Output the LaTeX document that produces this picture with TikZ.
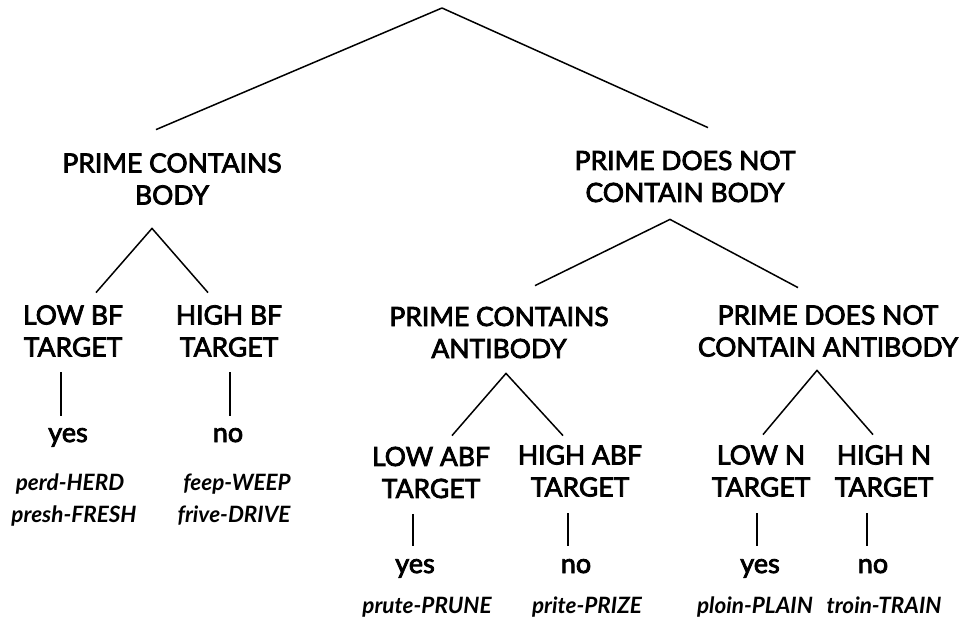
\documentclass[tikz,border=0pt]{standalone}
\usepackage{fontspec}
\setmainfont{Lato}
\newfontfamily\headfont{Lato}[FakeBold=3]
\usetikzlibrary{calc}

\tikzset{
  head/.style={align=center, inner sep=0pt, font=\headfont\fontsize{26.5}{32}\selectfont},
  answer/.style={inner sep=0pt, anchor=base, font=\headfont\fontsize{27}{32}\selectfont},
  pair/.style={inner sep=0pt, anchor=base, font=\fontsize{22.5}{26}\selectfont\bfseries\itshape},
  branch/.style={line width=1.5pt}
}

\begin{document}
\begin{tikzpicture}[x=1pt,y=-1pt]
\useasboundingbox (0,0) rectangle (959,621);
\coordinate (root) at (442,8);
% first split
\node[head] (body) at (172,179) {PRIME CONTAINS\\BODY};
\node[head] (notbody) at (685,176.5) {PRIME DOES NOT\\CONTAIN BODY};
% targets
\node[head] (lowbf) at (73,331) {LOW BF\\TARGET};
\node[head] (highbf) at (229,331) {HIGH BF\\TARGET};
\node[head] (antibody) at (499,332.5) {PRIME CONTAINS\\ANTIBODY};
\node[head] (notanti) at (828,331) {PRIME DOES NOT\\CONTAIN ANTIBODY};
\node[head] (lowabf) at (431,472.5) {LOW ABF\\TARGET};
\node[head] (highabf) at (580,471) {HIGH ABF\\TARGET};
\node[head] (lown) at (761,471) {LOW N\\TARGET};
\node[head] (highn) at (884,471) {HIGH N\\TARGET};
% answers
\node[answer] (yesbf) at (68,442) {yes};
\node[answer] (nobf) at (228,442) {no};
\node[answer] (yesabf) at (415,573) {yes};
\node[answer] (noabf) at (576,573) {no};
\node[answer] (yesn) at (760,573) {yes};
\node[answer] (non) at (873,573) {no};
% word pairs
\node[pair] (herd) at (70,490) {perd-HERD};
\node[pair] (fresh) at (74,522) {presh-FRESH};
\node[pair] (weep) at (237,490) {feep-WEEP};
\node[pair] (drive) at (234,522) {frive-DRIVE};
\node[pair] (prune) at (427,613) {prute-PRUNE};
\node[pair] (prize) at (587,613) {prite-PRIZE};
\node[pair] (plain) at (755,613) {ploin-PLAIN};
\node[pair] (train) at (884,613) {troin-TRAIN};

\draw[branch] (root) -- ($(body.north)+(-16,-23.5)$);
\draw[branch] (root) -- ($(notbody.north)+(23,-23)$);
\draw[branch] ($(lowbf.north)+(23,-12.5)$) -- ($(body.south)+(-20,23.5)$) -- ($(highbf.north)+(-21,-12.5)$);
\draw[branch] ($(antibody.north)+(36,-21)$) -- ($(notbody.south)+(-15,17)$) -- ($(notanti.north)+(-30,-17.5)$);
\draw[branch] ($(lowabf.north)+(21,-11)$) -- ($(antibody.south)+(7,15)$) -- ($(highabf.north)+(-17,-9.5)$);
\draw[branch] ($(lown.north)+(2,-10.5)$) -- ($(notanti.south)+(-11,13.5)$) -- ($(highn.north)+(-11,-10.5)$);
%\draw[branch] (lowbf) -- (yesbf);
\draw[branch] ($(lowbf.south)+(-12,15.5)$) -- ($(yesbf.north)+(-7,-12)$);
\draw[branch] ($(highbf.south)+(1,15.5)$) -- ($(nobf.north)+(2,-12)$);
\draw[branch] ($(lowabf.south)+(-18,15.5)$) -- ($(yesabf.north)+(-2,-13)$);
\draw[branch] ($(highabf.south)+(-12,16.5)$) -- ($(noabf.north)+(-8,-13)$);
\draw[branch] ($(lown.south)+(-4,16.5)$) -- ($(yesn.north)+(-3,-13)$);
\draw[branch] ($(highn.south)+(-17,16.5)$) -- ($(non.north)+(-6,-13)$);
\end{tikzpicture}
\end{document}
